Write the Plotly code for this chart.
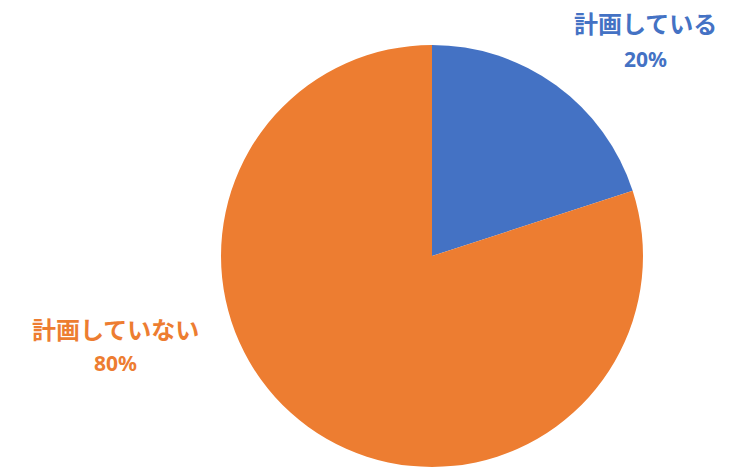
import plotly.graph_objects as go

labels = ["計画している", "計画していない"]
values = [20, 80]
colors = ["#4472C4", "#ED7D31"]

W, H = 731, 473
# label centres in page pixels: (x, name_y, pct_y)
label_px = [(645, 23, 59), (115, 328, 363)]

total = sum(values)

fig = go.Figure()
fig.add_trace(go.Pie(
    labels=labels,
    values=values,
    sort=False,
    direction="clockwise",
    rotation=0,
    marker=dict(colors=colors, line=dict(width=0)),
    textinfo="none",
    hoverinfo="label+percent",
    showlegend=False,
    domain=dict(x=[221 / W, 643 / W],
                y=[1 - 467 / H, 1 - 45 / H]),
))

for lab, val, col, (px, ny, py) in zip(labels, values, colors, label_px):
    pct = round(val / total * 100)
    fig.add_annotation(
        x=px / W, y=1 - ny / H, xref="paper", yref="paper",
        text=f"<b>{lab}</b>",
        showarrow=False,
        font=dict(family="Noto Sans CJK JP", size=24, color=col),
        xanchor="center", yanchor="middle", borderpad=0,
    )
    fig.add_annotation(
        x=px / W, y=1 - py / H, xref="paper", yref="paper",
        text=f"<b>{pct}%</b>",
        showarrow=False,
        font=dict(family="Noto Sans", size=21, color=col),
        xanchor="center", yanchor="middle", borderpad=0,
    )

fig.update_layout(
    width=W, height=H,
    margin=dict(l=0, r=0, t=0, b=0),
    paper_bgcolor="white",
    plot_bgcolor="white",
)

fig.write_html("out.html", config={"displayModeBar": False},
               post_script="document.body.style.margin='0';")
